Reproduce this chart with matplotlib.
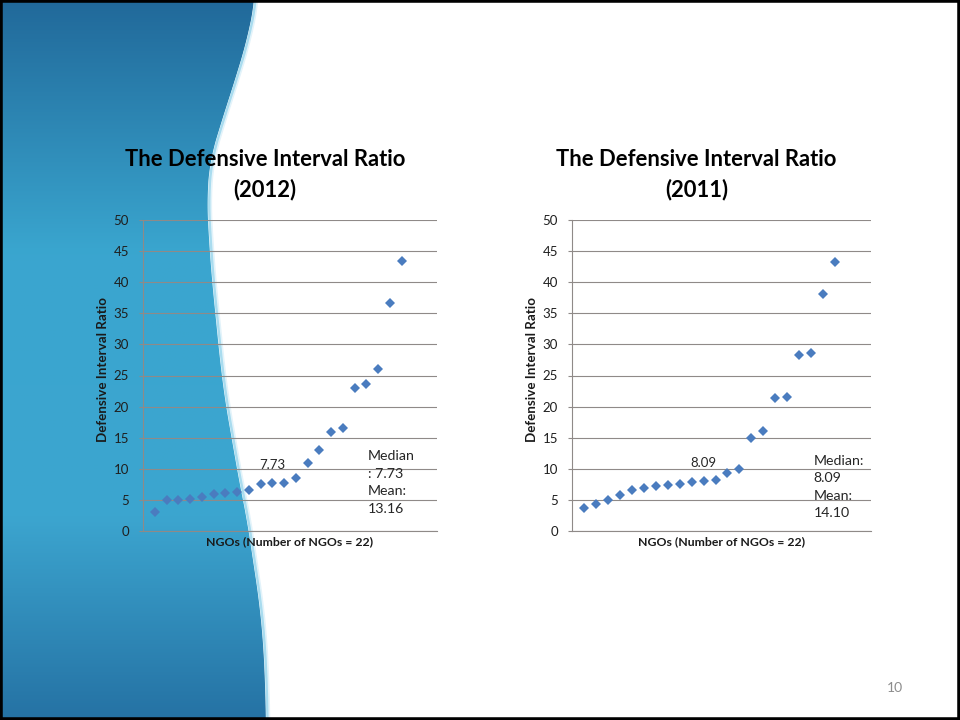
# -*- coding: utf-8 -*-

import numpy as np
import matplotlib.pyplot as plt
from matplotlib.path import Path
from matplotlib.patches import PathPatch, Rectangle

plt.rcParams['font.family'] = ['Lato', 'DejaVu Sans']

# データ (sorted ratio of each NGO)
ratio_2012 = [3.11, 5.00, 5.00, 5.10, 5.53, 5.90, 6.07, 6.34, 6.55, 7.57, 7.68,
              7.79, 8.49, 10.90, 13.05, 15.90, 16.54, 23.04, 23.63, 26.10, 36.73, 43.45]
ratio_2011 = [3.65, 4.35, 4.94, 5.75, 6.60, 6.93, 7.30, 7.36, 7.63, 7.89, 7.98,
              8.20, 9.40, 9.94, 14.93, 16.11, 21.43, 21.59, 28.36, 28.63, 38.08, 43.23]
median_2012, mean_2012 = "7.73", "13.16"
median_2011, mean_2011 = "8.09", "14.10"
y_ticks = [0, 5, 10, 15, 20, 25, 30, 35, 40, 45, 50]

W, H = 960, 720
MARKER = "#4a7cbf"
GRID = "#8f8a88"


def px(x, y):
    """pixel -> figure fraction"""
    return x / W, 1 - y / H


def draw_background(fig):
    bg = fig.add_axes([0, 0, 1, 1], zorder=0)
    bg.axis("off")

    # wave edge (y, x)
    edge_y = [0, 40, 80, 120, 160, 200, 240, 280, 320, 360, 400, 440, 480, 520, 560, 600, 640, 680, 720]
    edge_x = [255, 247, 235, 222, 210, 207, 209, 212, 216, 220, 225, 232, 239, 247, 253, 259, 263, 265, 266]
    ys = np.linspace(0, H, 400)
    xs = np.interp(ys, edge_y, edge_x)
    k = 25
    xs = np.convolve(np.pad(xs, k // 2, mode="edge"), np.ones(k) / k, mode="valid")

    # vertical gradient
    stops = [0.0, 0.35, 0.72, 1.0]
    cols = np.array([[0x21, 0x69, 0x9a], [0x3a, 0xa6, 0xcf],
                     [0x3c, 0xa5, 0xcf], [0x25, 0x72, 0xa4]]) / 255
    t = np.linspace(0, 1, 256)
    grad = np.stack([np.interp(t, stops, cols[:, i]) for i in range(3)], axis=-1)[:, None, :]
    im = bg.imshow(grad, extent=[0, 300, H, 0], aspect="auto", zorder=0)

    verts = [(0, 0)] + list(zip(xs, ys)) + [(0, H), (0, 0)]
    patch = PathPatch(Path(verts, closed=True), facecolor="none", edgecolor="none")
    bg.add_patch(patch)
    im.set_clip_path(patch)

    # light glow along the edge
    bg.plot(xs + 2.0, ys, color="#a9dcef", lw=2.4, solid_capstyle="butt", zorder=1)
    bg.plot(xs + 3.6, ys, color="#e3f3fa", lw=1.2, solid_capstyle="butt", zorder=1)

    bg.set_xlim(0, W)
    bg.set_ylim(H, 0)


def note_text(median, mean, year):
    if year == "2012":
        return "Median\n: %s\nMean:\n%s" % (median, mean)
    return "Median:\n%s\nMean:\n%s" % (median, mean)


def draw_chart(fig, x0, x1, values, year, median, mean, note_xy):
    y0, y1 = 220, 531
    ax = fig.add_axes([x0 / W, 1 - y1 / H, (x1 - x0) / W, (y1 - y0) / H], zorder=2)
    ax.patch.set_alpha(0.0)

    idx = np.arange(1, len(values) + 1)
    ax.plot(idx, values, linestyle="none", marker="D", markersize=4.8,
            color=MARKER, markeredgewidth=0, zorder=3)

    ax.set_xlim(0, 25)
    ax.set_ylim(0, 50)
    ax.set_yticks(y_ticks)
    ax.set_xticks([])

    # 枠線・グリッド
    ax.spines["right"].set_visible(False)
    ax.spines["top"].set_visible(False)
    ax.spines["left"].set_color(GRID)
    ax.spines["bottom"].set_color(GRID)
    ax.spines["left"].set_linewidth(0.8)
    ax.spines["bottom"].set_linewidth(0.8)
    ax.yaxis.grid(True, color=GRID, linewidth=0.8)
    ax.set_axisbelow(True)
    ax.tick_params(axis="y", length=3, width=0.8, color=GRID, pad=7,
                   labelsize=9.5, labelcolor="#1f1f1f")

    ax.set_xlabel("NGOs (Number of NGOs = 22)", fontsize=8.8, fontweight="bold",
                  labelpad=4, color="#1a1a1a")

    # median data label above the 11th NGO
    ax.annotate(median, xy=(11, values[10]), xytext=(0, 9), textcoords="offset points",
                ha="center", va="bottom", fontsize=9.5, color="#262626")
    ax.text(note_xy[0], note_xy[1], note_text(median, mean, year), transform=ax.transAxes,
            ha="left", va="top", fontsize=10.2, color="#262626", linespacing=1.55)

    # title & y label
    cx = (x0 + x1) / 2 - 25
    fig.text(*px(cx, 160), "The Defensive Interval Ratio", ha="center", va="center",
             fontsize=15.8, fontweight="bold", color="black")
    fig.text(*px(cx, 190), "(%s)" % year, ha="center", va="center",
             fontsize=15.8, fontweight="bold", color="black")
    fig.text(*px(x0 - 40, 370), "Defensive Interval Ratio", ha="center", va="center",
             rotation=90, fontsize=9.6, fontweight="bold", color="#1a1a1a")
    return ax


def main():
    fig = plt.figure(figsize=(9.6, 7.2), dpi=100)
    fig.patch.set_facecolor("white")

    draw_background(fig)
    draw_chart(fig, 143, 437, ratio_2012, "2012", median_2012, mean_2012, (0.765, 0.26))
    draw_chart(fig, 572, 871, ratio_2011, "2011", median_2011, mean_2011, (0.808, 0.245))

    # page number
    fig.text(*px(895, 688), "10", ha="center", va="center", fontsize=10, color="#8c8c8c")

    # slide frame
    fig.patches.append(Rectangle((0, 0), 1, 1, transform=fig.transFigure, fill=False,
                                 edgecolor="black", linewidth=4, zorder=10))

    fig.savefig("out.png", dpi=100)


if __name__ == '__main__':
    main()
